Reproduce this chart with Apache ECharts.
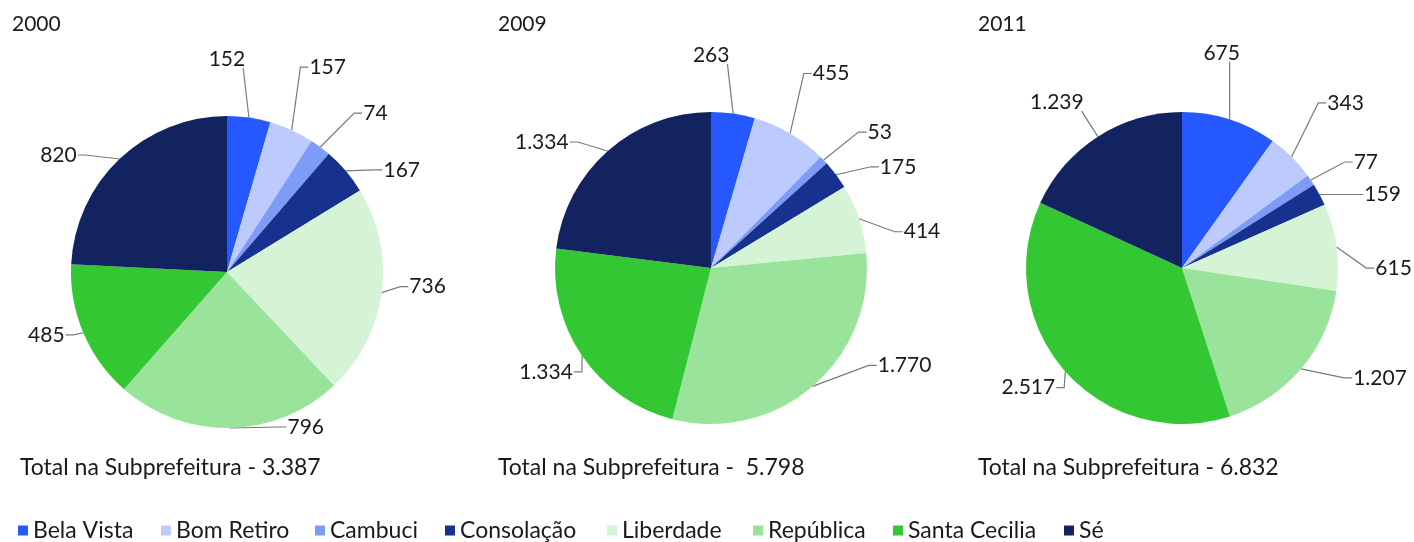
<!DOCTYPE html>
<html>
<head>
<meta charset="utf-8">
<script src="https://cdn.jsdelivr.net/npm/echarts@6/dist/echarts.min.js"></script>
<style>
  html, body { margin: 0; padding: 0; background: #ffffff; }
  #chart { width: 1414px; height: 542px; }
</style>
</head>
<body>
<div id="chart"></div>
<script>
// Distritos da Subprefeitura Sé
const districts = ['Bela Vista', 'Bom Retiro', 'Cambuci', 'Consolação', 'Liberdade', 'República', 'Santa Cecilia', 'Sé'];
const districtColors = ['#2558fe', '#bccbfb', '#7f9bf8', '#17318f', '#d5f4d5', '#9ae39a', '#33c833', '#12235f'];

const years = ['2000', '2009', '2011'];
const values2000 = [152, 157, 74, 167, 736, 796, 485, 820];
const values2009 = [263, 455, 53, 175, 414, 1770, 1334, 1334];
const values2011 = [675, 343, 77, 159, 615, 1207, 2517, 1239];
const totalLabels = ['Total na Subprefeitura - 3.387', 'Total na Subprefeitura -  5.798', 'Total na Subprefeitura - 6.832'];

const FONT = 'Lato, "Liberation Sans", sans-serif';
const TEXT_COLOR = '#1a1a1a';

// thousands separator with a dot (pt-BR)
function fmt(v) {
  return String(v).replace(/\B(?=(\d{3})+(?!\d))/g, '.');
}

const seriesValues = [values2000, values2009, values2011];

// ---- layout ----
const centersX = [227, 711, 1182];
const centersY = [272, 268, 268];
const pieRadius = 156;
const yearTitleLeft = [7, 493, 973];
const totalLeft = [15, 493, 973];
const legendIconLeft = [18, 161, 315, 445, 607, 753, 893, 1064];

// Label placement for each pie: offset of the label centre from the
// slice's outer edge point, and how the leader line meets the label
// ('s' = from the side, 't' = from below the label).
const labelPlacement = [
  [[-22, -58, 't'], [36, -63, 's'], [55, -34, 's'], [56, -1, 's'], [46, -6, 's'], [76, -1, 's'], [-37, 2, 's'], [-61, -4, 's']],
  [[-22, -58, 't'], [41, -60, 's'], [56, -28, 's'], [62, -8, 's'], [63, 13, 's'], [92, -21, 's'], [-36, 16, 's'], [-66, -9, 's']],
  [[-8, -66, 't'], [54, -54, 's'], [55, -18, 's'], [63, 0, 's'], [57, 21, 's'], [79, 9, 's'], [-37, 16, 's'], [-41, -34, 't']]
];

function layoutLabel(params) {
  const pts = params.labelLinePoints;
  if (!pts) return {};
  const place = labelPlacement[params.seriesIndex][params.dataIndex];
  const p0 = pts[0];
  const w = params.labelRect.width;
  const h = params.labelRect.height;
  const cx = p0[0] + place[0];
  const cy = p0[1] + place[1];
  let line;
  if (place[2] === 't') {
    const ex = Math.min(Math.max(p0[0], cx - w / 2 + 4), cx + w / 2 - 2);
    const ey = cy + h / 2 - 2;
    line = [p0, [ex, ey], [ex, ey]];
  } else if (place[0] >= 0) {
    const lx = cx - w / 2;
    line = [p0, [lx - 9, cy], [lx - 1, cy]];
  } else {
    const rx = cx + w / 2;
    line = [p0, [rx + 9, cy], [rx + 1, cy]];
  }
  return { x: cx, y: cy, align: 'center', verticalAlign: 'middle', labelLinePoints: line };
}

const titles = [];
years.forEach((y, i) => {
  titles.push({ text: y, left: yearTitleLeft[i], top: 9,
    textStyle: { fontFamily: FONT, fontSize: 21, fontWeight: 'normal', color: TEXT_COLOR } });
  titles.push({ text: totalLabels[i], left: totalLeft[i], top: 451,
    textStyle: { fontFamily: FONT, fontSize: 23, fontWeight: 'normal', color: TEXT_COLOR } });
});

const series = years.map((y, i) => ({
  type: 'pie',
  name: y,
  center: [centersX[i], centersY[i]],
  radius: pieRadius,
  startAngle: 90,
  clockwise: true,
  avoidLabelOverlap: false,
  silent: true,
  data: districts.map((d, k) => ({ name: d, value: seriesValues[i][k], itemStyle: { color: districtColors[k] } })),
  label: {
    show: true,
    position: 'outside',
    overflow: 'none',
    formatter: p => fmt(p.value),
    fontFamily: FONT,
    fontSize: 21,
    color: TEXT_COLOR
  },
  labelLine: {
    show: true,
    length: 20,
    length2: 10,
    lineStyle: { color: '#7a7a7a', width: 1.2 }
  },
  labelLayout: layoutLabel
}));

// one legend component per district so each entry sits at its own x
const legends = districts.map((d, k) => ({
  data: [d],
  left: legendIconLeft[k] - 5,
  top: 514,
  icon: 'rect',
  itemWidth: 10,
  itemHeight: 10,
  selectedMode: false,
  textStyle: { fontFamily: FONT, fontSize: 23, color: TEXT_COLOR, padding: [0, 0, 15, 0] }
}));

const chart = echarts.init(document.getElementById('chart'));
chart.setOption({
  animation: false,
  backgroundColor: '#ffffff',
  title: titles,
  legend: legends,
  series: series
});
</script>
</body>
</html>
